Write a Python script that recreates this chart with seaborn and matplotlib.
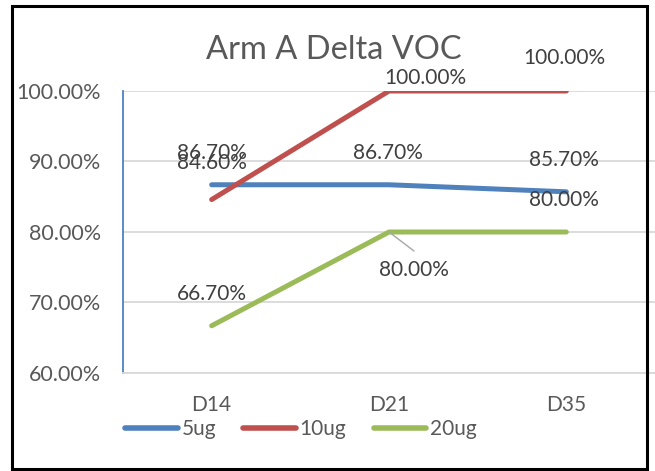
import matplotlib
matplotlib.use("Agg")
import matplotlib.pyplot as plt
import seaborn as sns
import pandas as pd
from matplotlib.patches import Rectangle
from matplotlib.lines import Line2D
from matplotlib.ticker import FuncFormatter, FixedLocator

categories = ["D14", "D21", "D35"]
series_names = ["5ug", "10ug", "20ug"]
vals_5ug = [86.7, 86.7, 85.7]
vals_10ug = [84.6, 100.0, 100.0]
vals_20ug = [66.7, 80.0, 80.0]
colors = ["#4F81BD", "#C0504D", "#9BBB59"]

rows = []
for name, vals in zip(series_names, [vals_5ug, vals_10ug, vals_20ug]):
    for i, (c, v) in enumerate(zip(categories, vals)):
        rows.append({"pos": i, "cat": c, "series": name, "value": v})
df = pd.DataFrame(rows)

sns.set_theme(style="white")
plt.rcParams["font.family"] = ["Lato", "DejaVu Sans"]

W, H = 655, 471
fig = plt.figure(figsize=(W / 100, H / 100), dpi=100)
ax = fig.add_axes([123 / W, 1 - 373 / H, (655 - 123) / W, (373 - 91) / H])

sns.lineplot(data=df, x="pos", y="value", hue="series", palette=colors,
             hue_order=series_names, linewidth=3.6, ax=ax, legend=False, sort=False)
for ln in ax.get_lines():
    ln.set_solid_capstyle("round")

ax.set_xlim(-0.5, 2.5)
ax.set_ylim(60, 100)
ax.set_yticks([60, 70, 80, 90, 100])
ax.yaxis.set_major_formatter(FuncFormatter(lambda v, p: f"{v:.2f}%"))
ax.set_xticks(range(len(categories)))
ax.set_xticklabels(categories)
ax.xaxis.set_minor_locator(FixedLocator([-0.5, 0.5, 1.5, 2.5]))
ax.tick_params(axis="x", which="major", length=0, pad=16, labelsize=15, labelcolor="#595959")
ax.tick_params(axis="x", which="minor", length=5, width=1.2, color="#D9D9D9", direction="out")
ax.tick_params(axis="y", which="major", length=5, width=1.2, color="#4F81BD", direction="out",
               labelsize=15.5, labelcolor="#595959", pad=11)
ax.set_xlabel("")
ax.set_ylabel("")
ax.grid(axis="y", color="#D9D9D9", linewidth=1.3)
ax.set_axisbelow(True)
for s in ["top", "right"]:
    ax.spines[s].set_visible(False)
ax.spines["left"].set_color("#4F81BD")
ax.spines["left"].set_linewidth(1.3)
ax.spines["bottom"].set_color("#D9D9D9")
ax.spines["bottom"].set_linewidth(1.3)

# data labels (offsets in pixels -> points)
offsets = {
    "5ug": [(0, 32), (-1, 32), (-2, 32)],
    "10ug": [(0, 37), (36, 13), (-2, 33)],
    "20ug": [(0, 32), (25, -38), (-2, 32)],
}
for name, vals in zip(series_names, [vals_5ug, vals_10ug, vals_20ug]):
    for i, v in enumerate(vals):
        dx, dy = offsets[name][i]
        ax.annotate(f"{v:.2f}%", xy=(i, v), xytext=(dx * 0.72, dy * 0.72),
                    textcoords="offset points", ha="center", va="center",
                    fontsize=15, color="#404040", annotation_clip=False)
# leader line for 20ug D21 label
ax.annotate("", xy=(1, vals_20ug[1]), xytext=(25 * 0.72, -19 * 0.72),
            textcoords="offset points",
            arrowprops=dict(arrowstyle="-", color="#A6A6A6", lw=1.0, shrinkA=0, shrinkB=0))

fig.text(334 / W, 1 - 50 / H, "Arm A Delta VOC", ha="center", va="center",
         fontsize=23.5, color="#595959")

handles = [Line2D([0], [0], color=c, lw=4.0, solid_capstyle="round") for c in colors]
fig.legend(handles, series_names, loc="center", bbox_to_anchor=(301 / W, 1 - 429 / H),
           ncol=3, frameon=False, fontsize=15, labelcolor="#595959",
           handlelength=2.5, handletextpad=0.2, columnspacing=1.3)

fig.patches.append(Rectangle((12 / W, 1 - 469 / H), (647 - 12) / W, (469 - 6) / H,
                             transform=fig.transFigure, fill=False, edgecolor="black",
                             linewidth=2.2, zorder=10))

fig.savefig("out.png", dpi=100, facecolor="white")
